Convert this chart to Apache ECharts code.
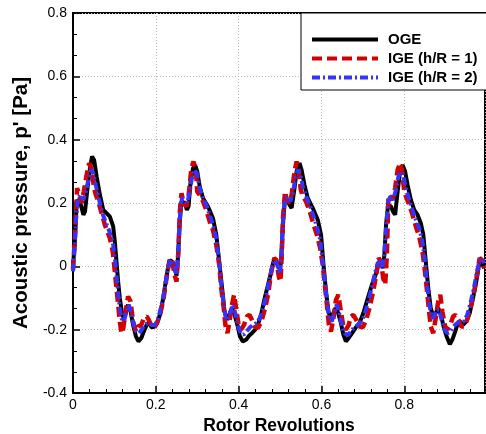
<!DOCTYPE html>
<html>
<head>
<meta charset="utf-8">
<script src="https://cdn.jsdelivr.net/npm/echarts@6/dist/echarts.min.js"></script>
<style>
  html, body { margin: 0; padding: 0; background: #fff; }
  #chart { width: 486px; height: 434px; }
</style>
</head>
<body>
<div id="chart"></div>
<script>
// 图例名称
const seriesNames = ['OGE', 'IGE (h/R = 1)', 'IGE (h/R = 2)'];
const yTicks = [-0.4, -0.2, 0, 0.2, 0.4, 0.6, 0.8];

// OGE (黑色实线) [转数, 声压]
const ogeData = [
  [0, 0], [0.005, 0.09], [0.009, 0.205], [0.015, 0.21], [0.021, 0.184], [0.025, 0.163], [0.029, 0.173],
  [0.035, 0.247], [0.041, 0.31], [0.046, 0.347], [0.051, 0.336], [0.057, 0.284], [0.065, 0.226],
  [0.073, 0.178], [0.081, 0.168], [0.089, 0.157], [0.097, 0.126], [0.101, 0.078], [0.105, 0.015],
  [0.109, -0.048], [0.113, -0.1], [0.119, -0.153], [0.123, -0.164], [0.128, -0.143], [0.133, -0.121],
  [0.139, -0.142], [0.145, -0.185], [0.152, -0.221], [0.158, -0.237], [0.165, -0.226], [0.171, -0.206],
  [0.178, -0.185], [0.184, -0.179], [0.19, -0.193], [0.197, -0.19], [0.203, -0.179], [0.21, -0.153],
  [0.218, -0.1], [0.224, -0.048], [0.23, 0], [0.234, 0.02], [0.239, 0.015], [0.244, 0], [0.25, -0.03],
  [0.254, 0.036], [0.258, 0.142], [0.262, 0.205], [0.27, 0.2], [0.275, 0.178], [0.279, 0.189],
  [0.284, 0.268], [0.29, 0.31], [0.295, 0.32], [0.3, 0.3], [0.306, 0.252], [0.314, 0.215], [0.326, 0.189],
  [0.338, 0.152], [0.346, 0.1], [0.354, 0.005], [0.361, -0.079], [0.366, -0.143], [0.373, -0.169],
  [0.378, -0.153], [0.384, -0.132], [0.39, -0.153], [0.397, -0.185], [0.403, -0.221], [0.41, -0.237],
  [0.418, -0.232], [0.424, -0.221], [0.432, -0.211], [0.44, -0.2], [0.448, -0.179], [0.455, -0.148],
  [0.463, -0.1], [0.471, -0.058], [0.479, -0.016], [0.484, 0.015], [0.489, 0.02], [0.495, 0.005],
  [0.5, -0.012], [0.503, 0.026], [0.507, 0.131], [0.511, 0.2], [0.516, 0.215], [0.523, 0.194],
  [0.528, 0.184], [0.535, 0.247], [0.54, 0.3], [0.547, 0.326], [0.552, 0.305], [0.559, 0.257],
  [0.567, 0.215], [0.579, 0.184], [0.591, 0.147], [0.599, 0.1], [0.605, 0.005], [0.611, -0.079],
  [0.617, -0.143], [0.622, -0.164], [0.627, -0.153], [0.634, -0.132], [0.639, -0.142], [0.646, -0.174],
  [0.653, -0.216], [0.659, -0.237], [0.666, -0.226], [0.674, -0.211], [0.682, -0.195], [0.692, -0.179],
  [0.701, -0.148], [0.712, -0.1], [0.722, -0.058], [0.732, -0.022], [0.737, 0.005], [0.743, 0.015],
  [0.748, -0.006], [0.752, 0.036], [0.756, 0.131], [0.761, 0.194], [0.768, 0.189], [0.773, 0.173],
  [0.778, 0.163], [0.784, 0.236], [0.79, 0.3], [0.796, 0.32], [0.802, 0.3], [0.808, 0.257],
  [0.816, 0.21], [0.824, 0.178], [0.832, 0.163], [0.84, 0.136], [0.846, 0.1], [0.852, 0.015],
  [0.858, -0.069], [0.864, -0.132], [0.87, -0.158], [0.876, -0.148], [0.882, -0.132], [0.888, -0.148],
  [0.894, -0.185], [0.902, -0.221], [0.91, -0.246], [0.916, -0.232], [0.923, -0.206], [0.928, -0.185],
  [0.935, -0.174], [0.942, -0.185], [0.95, -0.174], [0.958, -0.148], [0.966, -0.1], [0.974, -0.048],
  [0.98, 0], [0.984, 0.02], [0.988, 0.01], [0.993, -0.006]
];

// IGE h/R = 1 (红色虚线)
const ige1Data = [
  [0, -0.01], [0.004, 0.08], [0.007, 0.173], [0.01, 0.247], [0.015, 0.226], [0.021, 0.2], [0.026, 0.236],
  [0.033, 0.289], [0.039, 0.326], [0.045, 0.305], [0.051, 0.247], [0.055, 0.226], [0.061, 0.205],
  [0.069, 0.168], [0.077, 0.131], [0.083, 0.11], [0.089, 0.089], [0.096, 0.047], [0.101, -0.016],
  [0.105, -0.069], [0.109, -0.121], [0.113, -0.174], [0.117, -0.211], [0.121, -0.2], [0.127, -0.143],
  [0.133, -0.095], [0.139, -0.111], [0.145, -0.174], [0.152, -0.206], [0.157, -0.19], [0.165, -0.185],
  [0.171, -0.164], [0.178, -0.158], [0.183, -0.169], [0.19, -0.19], [0.196, -0.195], [0.203, -0.179],
  [0.211, -0.148], [0.219, -0.1], [0.227, -0.027], [0.234, 0.026], [0.239, 0.02], [0.246, -0.03],
  [0.25, -0.048], [0.254, 0.036], [0.258, 0.173], [0.262, 0.231], [0.267, 0.2], [0.274, 0.189],
  [0.279, 0.221], [0.286, 0.31], [0.291, 0.331], [0.297, 0.3], [0.3, 0.236], [0.306, 0.226],
  [0.314, 0.205], [0.322, 0.178], [0.33, 0.142], [0.338, 0.115], [0.346, 0.068], [0.353, 0.005],
  [0.358, -0.069], [0.364, -0.132], [0.368, -0.185], [0.373, -0.211], [0.378, -0.174], [0.384, -0.121],
  [0.389, -0.09], [0.394, -0.132], [0.4, -0.185], [0.406, -0.2], [0.413, -0.185], [0.42, -0.158],
  [0.426, -0.153], [0.432, -0.169], [0.439, -0.19], [0.447, -0.195], [0.455, -0.174], [0.463, -0.137],
  [0.471, -0.09], [0.479, -0.016], [0.486, 0.026], [0.491, 0.02], [0.497, -0.032], [0.501, -0.048],
  [0.504, 0.026], [0.507, 0.152], [0.512, 0.236], [0.516, 0.21], [0.523, 0.2], [0.528, 0.226],
  [0.535, 0.3], [0.54, 0.331], [0.545, 0.305], [0.55, 0.242], [0.555, 0.221], [0.563, 0.205],
  [0.573, 0.168], [0.581, 0.131], [0.589, 0.1], [0.597, 0.057], [0.603, 0.005], [0.609, -0.069],
  [0.614, -0.132], [0.618, -0.185], [0.623, -0.206], [0.629, -0.164], [0.635, -0.106], [0.641, -0.09],
  [0.647, -0.143], [0.653, -0.19], [0.659, -0.2], [0.666, -0.185], [0.671, -0.158], [0.677, -0.153],
  [0.684, -0.169], [0.692, -0.19], [0.7, -0.193], [0.708, -0.169], [0.716, -0.132], [0.725, -0.079],
  [0.733, -0.022], [0.738, 0.026], [0.744, 0.015], [0.749, -0.037], [0.754, -0.058], [0.758, 0.036],
  [0.762, 0.226], [0.766, 0.221], [0.772, 0.21], [0.778, 0.247], [0.784, 0.305], [0.79, 0.326],
  [0.795, 0.3], [0.8, 0.236], [0.804, 0.221], [0.812, 0.194], [0.82, 0.163], [0.828, 0.126],
  [0.836, 0.094], [0.844, 0.047], [0.85, -0.016], [0.855, -0.079], [0.86, -0.143], [0.864, -0.19],
  [0.87, -0.211], [0.876, -0.164], [0.882, -0.111], [0.887, -0.09], [0.892, -0.143], [0.899, -0.19],
  [0.904, -0.2], [0.911, -0.185], [0.918, -0.158], [0.924, -0.153], [0.931, -0.169], [0.938, -0.19],
  [0.945, -0.19], [0.953, -0.164], [0.961, -0.126], [0.969, -0.079], [0.977, -0.016], [0.982, 0.026],
  [0.988, 0.02], [0.993, -0.006]
];

// IGE h/R = 2 (蓝色点划线)
const ige2Data = [
  [0, -0.016], [0.004, 0.06], [0.007, 0.142], [0.012, 0.215], [0.018, 0.226], [0.025, 0.21], [0.031, 0.236],
  [0.038, 0.278], [0.043, 0.305], [0.049, 0.294], [0.055, 0.257], [0.063, 0.21], [0.071, 0.168],
  [0.08, 0.136], [0.088, 0.11], [0.096, 0.078], [0.102, 0.015], [0.107, -0.058], [0.112, -0.121],
  [0.117, -0.164], [0.123, -0.174], [0.129, -0.143], [0.135, -0.121], [0.141, -0.153], [0.148, -0.19],
  [0.153, -0.206], [0.16, -0.211], [0.166, -0.2], [0.173, -0.185], [0.181, -0.179], [0.19, -0.185],
  [0.198, -0.185], [0.206, -0.164], [0.214, -0.121], [0.222, -0.069], [0.228, -0.016], [0.234, 0.015],
  [0.24, 0.02], [0.246, -0.006], [0.25, -0.027], [0.254, 0.047], [0.258, 0.152], [0.263, 0.215],
  [0.27, 0.21], [0.276, 0.2], [0.282, 0.236], [0.287, 0.278], [0.294, 0.305], [0.3, 0.289],
  [0.306, 0.247], [0.314, 0.215], [0.322, 0.194], [0.33, 0.163], [0.338, 0.131], [0.346, 0.089],
  [0.353, 0.015], [0.358, -0.058], [0.364, -0.121], [0.369, -0.164], [0.374, -0.169], [0.38, -0.143],
  [0.386, -0.121], [0.392, -0.148], [0.399, -0.19], [0.405, -0.211], [0.412, -0.216], [0.419, -0.206],
  [0.427, -0.193], [0.435, -0.185], [0.443, -0.179], [0.451, -0.164], [0.459, -0.132], [0.467, -0.09],
  [0.475, -0.037], [0.482, 0.005], [0.487, 0.02], [0.493, 0.005], [0.499, -0.025], [0.503, 0.036],
  [0.507, 0.142], [0.512, 0.215], [0.518, 0.221], [0.525, 0.205], [0.531, 0.231], [0.537, 0.278],
  [0.543, 0.305], [0.549, 0.294], [0.555, 0.252], [0.563, 0.221], [0.573, 0.189], [0.581, 0.158],
  [0.589, 0.126], [0.597, 0.084], [0.603, 0.015], [0.609, -0.058], [0.614, -0.121], [0.619, -0.164],
  [0.625, -0.174], [0.631, -0.148], [0.637, -0.121], [0.643, -0.148], [0.65, -0.19], [0.656, -0.211],
  [0.663, -0.218], [0.671, -0.206], [0.679, -0.193], [0.688, -0.185], [0.696, -0.174], [0.704, -0.153],
  [0.712, -0.116], [0.721, -0.069], [0.729, -0.022], [0.736, 0.01], [0.741, 0.015], [0.746, -0.008],
  [0.751, 0.026], [0.756, 0.12], [0.761, 0.205], [0.767, 0.221], [0.773, 0.21], [0.78, 0.242],
  [0.786, 0.284], [0.793, 0.3], [0.798, 0.284], [0.804, 0.247], [0.812, 0.21], [0.82, 0.178],
  [0.828, 0.147], [0.836, 0.121], [0.844, 0.078], [0.851, 0.005], [0.856, -0.069], [0.862, -0.132],
  [0.867, -0.164], [0.872, -0.158], [0.878, -0.137], [0.884, -0.137], [0.891, -0.174], [0.897, -0.2],
  [0.904, -0.211], [0.912, -0.206], [0.919, -0.19], [0.928, -0.179], [0.936, -0.174], [0.944, -0.174],
  [0.952, -0.153], [0.96, -0.116], [0.968, -0.069], [0.976, -0.016], [0.982, 0.02], [0.988, 0.026],
  [0.993, 0.01]
];

const FONT = '"Liberation Sans", Arial, sans-serif';
const chart = echarts.init(document.getElementById('chart'), null, { renderer: 'canvas' });

const axisCommon = {
  axisLine: { onZero: false, lineStyle: { color: '#000', width: 2 } },
  axisTick: { inside: true, length: 7, lineStyle: { color: '#000', width: 1.5 } },
  minorTick: { show: true, length: 4, lineStyle: { color: '#000', width: 1 } },
  splitLine: { show: true, lineStyle: { color: '#bbb', type: [1, 2], width: 1 } },
  axisLabel: { color: '#000', fontSize: 14, fontFamily: FONT },
  nameTextStyle: { color: '#000', fontSize: 17.5, fontWeight: 'bold', fontFamily: FONT }
};

const option = {
  animation: false,
  backgroundColor: '#fff',
  grid: {
    left: 73, top: 13, right: 1, bottom: 41,
    outerBoundsMode: 'none',
    containLabel: false,
    show: true, borderColor: '#000', borderWidth: 2, backgroundColor: 'transparent'
  },
  legend: {
    data: seriesNames,
    orient: 'vertical',
    left: 301, top: 13,
    padding: [19, 10, 5, 9],
    itemWidth: 66, itemHeight: 14, itemGap: 4,
    backgroundColor: '#fff',
    borderColor: '#000', borderWidth: 1,
    itemStyle: { opacity: 0 },
    lineStyle: { width: 4 },
    textStyle: { color: '#000', fontSize: 15, fontWeight: 'bold', fontFamily: FONT, padding: [0, 0, 0, 5] }
  },
  xAxis: Object.assign({}, axisCommon, {
    type: 'value',
    min: 0, max: 0.995, interval: 0.2,
    minorTick: Object.assign({}, axisCommon.minorTick, { splitNumber: 5 }),
    axisLabel: Object.assign({}, axisCommon.axisLabel, { showMaxLabel: false, margin: 5 }),
    name: 'Rotor Revolutions',
    nameLocation: 'middle',
    nameGap: 17
  }),
  yAxis: Object.assign({}, axisCommon, {
    type: 'value',
    min: yTicks[0], max: yTicks[yTicks.length - 1], interval: 0.2,
    minorTick: Object.assign({}, axisCommon.minorTick, { splitNumber: 3 }),
    axisLabel: Object.assign({}, axisCommon.axisLabel, { margin: 6 }),
    name: "Acoustic pressure, p' [Pa]",
    nameLocation: 'middle',
    nameGap: 37,
    nameTextStyle: Object.assign({}, axisCommon.nameTextStyle, { fontSize: 20.5 })
  }),
  series: [
    {
      name: seriesNames[0], type: 'line', data: ogeData, showSymbol: false, symbol: 'none',
      lineStyle: { color: '#000', width: 4 }, itemStyle: { color: '#000' }
    },
    {
      name: seriesNames[1], type: 'line', data: ige1Data, showSymbol: false, symbol: 'none',
      lineStyle: { color: '#d40000', width: 4.5, type: [10, 5] }, itemStyle: { color: '#d40000' }
    },
    {
      name: seriesNames[2], type: 'line', data: ige2Data, showSymbol: false, symbol: 'none',
      lineStyle: { color: '#3333ff', width: 4, type: [8, 3, 2, 3] }, itemStyle: { color: '#3333ff' }
    }
  ]
};

chart.setOption(option);
</script>
</body>
</html>
